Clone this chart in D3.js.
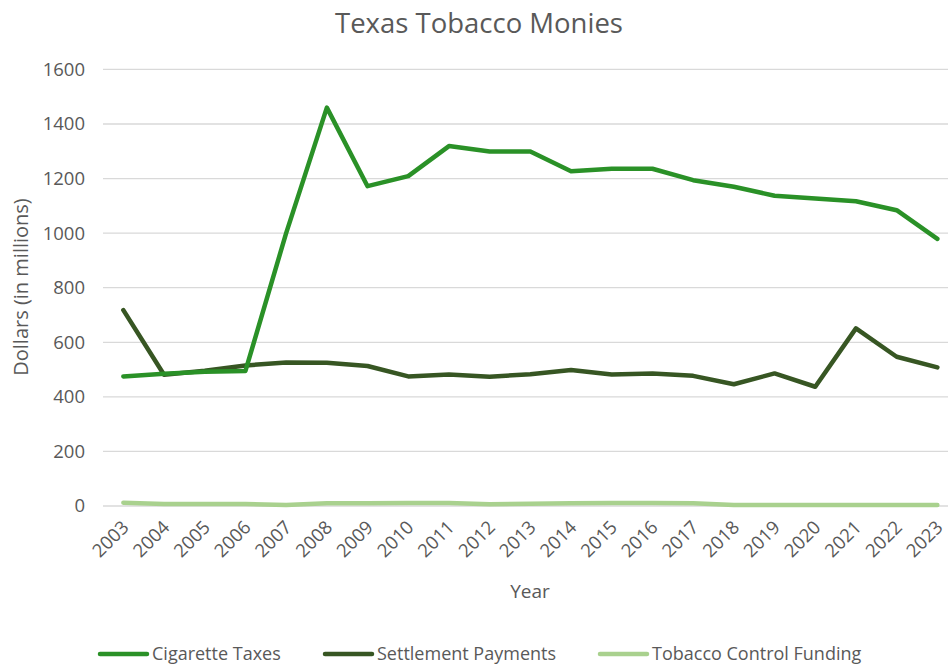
<!DOCTYPE html>
<html><head><meta charset="utf-8">
<script src="https://cdn.jsdelivr.net/npm/d3@7"></script>
<style>
body{margin:0;background:#fff;}
text{font-family:"Open Sans",sans-serif;fill:#595959;}
</style></head>
<body><svg id="c" width="948" height="665"></svg>
<script>
const years = ["2003","2004","2005","2006","2007","2008","2009","2010","2011","2012","2013","2014","2015","2016","2017","2018","2019","2020","2021","2022","2023"];
const cigaretteTaxes = [475,485,492,495,1000,1460,1172,1209,1319,1299,1299,1227,1236,1236,1194,1170,1137,1127,1117,1084,979];
const settlementPayments = [718,481,496,515,526,525,513,475,482,474,483,498,482,486,477,446,486,437,651,547,508];
const tobaccoControl = [12,7,7,7,4,10,10,11,11,6,8,10,11,11,10,4,4,4,4,4,4];
const yTicks = [0,200,400,600,800,1000,1200,1400,1600];
const seriesNames = ["Cigarette Taxes","Settlement Payments","Tobacco Control Funding"];
const seriesColors = ["#2a9127","#375623","#a9d18e"];

const svg = d3.select("#c");
const x = d3.scalePoint().domain(years).range([103, 957.7]).padding(0.5);
const y = d3.scaleLinear().domain([0,1600]).range([506, 69.4]);

// gridlines
svg.append("g").selectAll("line").data(yTicks).join("line")
  .attr("x1",103).attr("x2",960)
  .attr("y1",d=>y(d)).attr("y2",d=>y(d))
  .attr("stroke","#d9d9d9").attr("stroke-width",1.3);

// y tick labels
svg.append("g").selectAll("text").data(yTicks).join("text")
  .attr("x",85).attr("y",d=>y(d)).attr("dy","0.35em")
  .attr("text-anchor","end").attr("font-size",18.5).text(d=>d);

// x tick labels
svg.append("g").selectAll("text").data(years).join("text")
  .attr("transform",d=>`translate(${x(d)+2},${524}) rotate(-45)`)
  .attr("text-anchor","end").attr("font-size",18.5).attr("dy","0.35em").text(d=>d);

// axis titles
svg.append("text").attr("x",530).attr("y",598).attr("text-anchor","middle")
  .attr("font-size",19).text("Year");
svg.append("text").attr("transform","translate(28,287) rotate(-90)")
  .attr("text-anchor","middle").attr("font-size",20).text("Dollars (in millions)");

// title
svg.append("text").attr("x",479).attr("y",33).attr("text-anchor","middle")
  .attr("font-size",27.5).text("Texas Tobacco Monies");

// lines
const series = [cigaretteTaxes, settlementPayments, tobaccoControl];
const line = d3.line().x((d,i)=>x(years[i])).y(d=>y(d));
[2,1,0].forEach(k=>{
  svg.append("path").datum(series[k]).attr("d",line)
    .attr("fill","none").attr("stroke",seriesColors[k]).attr("stroke-width",4.5)
    .attr("stroke-linejoin","round").attr("stroke-linecap","round");
});

// legend
const legendX = [100,325,600];
const lg = svg.append("g");
seriesNames.forEach((n,i)=>{
  lg.append("line").attr("x1",legendX[i]).attr("x2",legendX[i]+47)
    .attr("y1",654).attr("y2",654).attr("stroke",seriesColors[i]).attr("stroke-width",4.5)
    .attr("stroke-linecap","round");
  lg.append("text").attr("x",legendX[i]+52).attr("y",660)
    .attr("font-size",18).text(n);
});
</script></body></html>
